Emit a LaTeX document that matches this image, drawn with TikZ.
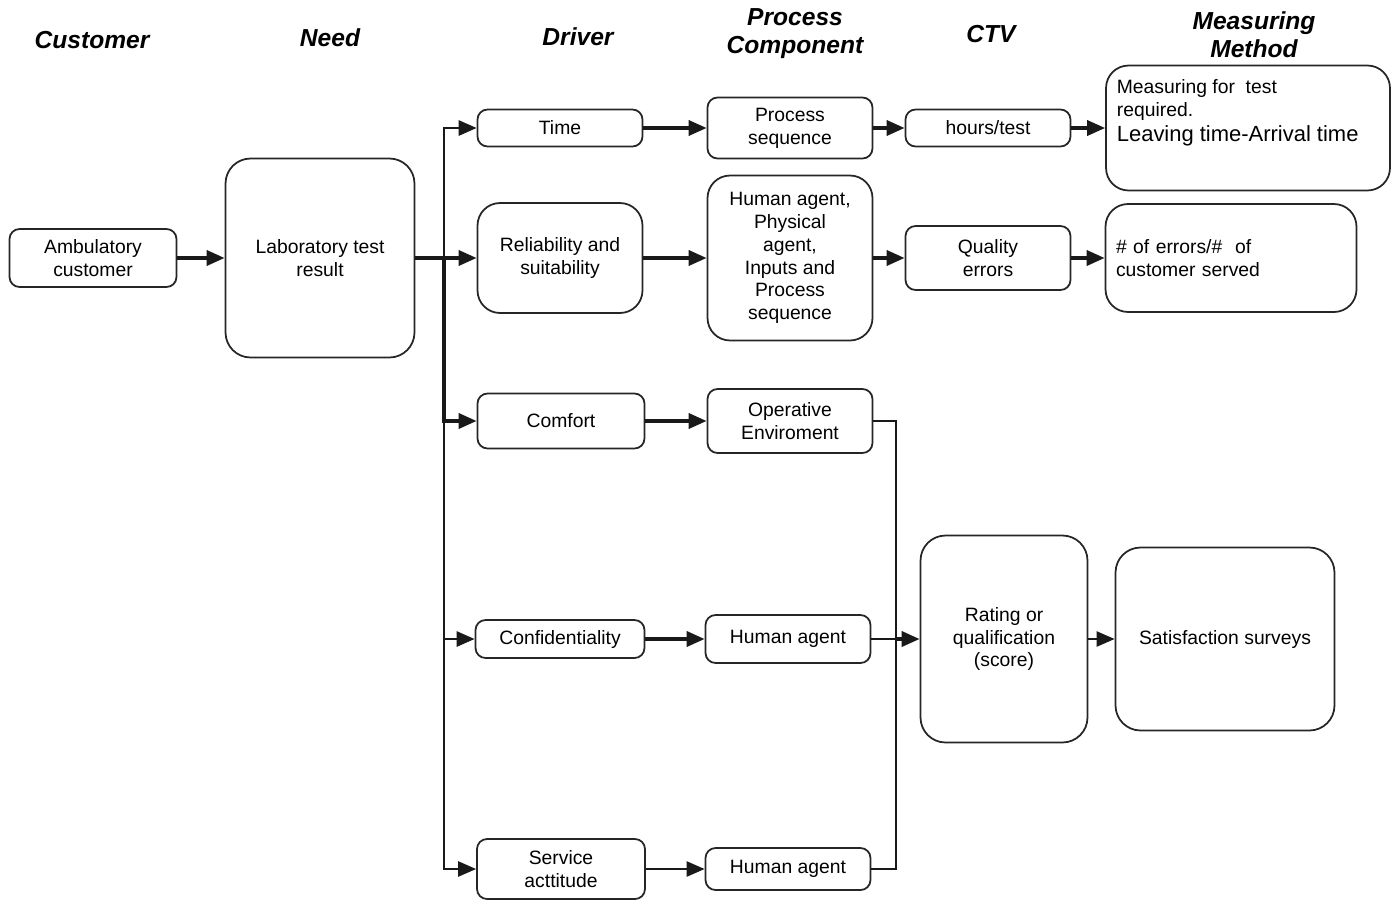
\documentclass[tikz,border=0pt]{standalone}
\usepackage{fontspec}
\setmainfont{Liberation Sans}
\usetikzlibrary{arrows.meta}
\tikzset{cbox/.style={draw=black!85,line width=1pt,rounded corners=#1,align=center,inner sep=2pt,
                      font=\fontsize{11}{13}\selectfont},
         cbox/.default=0.2cm,
         cedge/.style={draw=black!90,line width=#1},
         cedge/.default=2pt,
         hdr/.style={font=\fontsize{14}{16}\selectfont\bfseries\itshape,align=center},
         elbow/.style={to path={|- (\tikztotarget) \tikztonodes}},
         elbowh/.style={to path={-| (\tikztotarget) \tikztonodes}}
}

\begin{document}
\begin{tikzpicture}[x=0.02cm,y=-0.02cm]
  \useasboundingbox (0,0) rectangle (1399,903);
  % column headers
  \begin{scope}[every node/.style={hdr}]
    \node (hcust) at (92,40) {Customer};
    \node (hneed) at (330,38) {Need};
    \node (hdrv) at (578,37) {Driver};
    \node (hproc) at (795,34) {Process\\Component};
    \node (hctv) at (991,34) {CTV};
    \node (hmeas) at (1254,35) {Measuring\\Method};
  \end{scope}
  % boxes
  \begin{scope}[every node/.style={cbox}]
    \node[minimum width=3.34cm,minimum height=1.16cm] (amb) at (93,258) {Ambulatory\\customer};
    \node[cbox=0.5cm,minimum width=3.78cm,minimum height=3.98cm] (lab) at (320,258) {Laboratory test\\result};
    \node[minimum width=3.3cm,minimum height=0.74cm] (time) at (560,128) {Time};
    \node[cbox=0.45cm,minimum width=3.3cm,minimum height=2.2cm] (reli) at (560,258) {Reliability and\\suitability};
    \node[minimum width=3.34cm,minimum height=1.1cm] (comfort) at (561,421) {Comfort};
    \node[minimum width=3.38cm,minimum height=0.76cm] (conf) at (560,639) {Confidentiality};
    \node[minimum width=3.36cm,minimum height=1.2cm] (serv) at (561,869) {Service\\acttitude};
    \node[minimum width=3.3cm,minimum height=1.22cm] (procseq) at (790,128) {Process\\sequence};
    \node[cbox=0.45cm,minimum width=3.3cm,minimum height=3.3cm] (human1) at (790,258) {Human agent,\\Physical\\agent,\\Inputs and\\Process\\sequence};
    \node[minimum width=3.3cm,minimum height=1.28cm] (openv) at (790,421) {Operative\\Enviroment};
    \node[minimum width=3.3cm,minimum height=0.96cm] (hum2) at (788,639) {Human agent};
    \node[minimum width=3.3cm,minimum height=0.84cm] (hum3) at (788,869) {Human agent};
    \node[minimum width=3.3cm,minimum height=0.74cm] (hours) at (988,128) {hours/test};
    \node[minimum width=3.3cm,minimum height=1.28cm] (quality) at (988,258) {Quality\\errors};
    \node[cbox=0.5cm,minimum width=3.34cm,minimum height=4.14cm] (rating) at (1004,639) {Rating or\\qualification\\(score)};
    \node[cbox=0.45cm,minimum width=5.68cm,minimum height=2.5cm] (meas1) at (1248,128) {};
    \node[cbox=0.45cm,minimum width=5.02cm,minimum height=2.16cm,text width=4.6cm,align=left] (meas2) at (1231,258) {\#\ of errors/\#\ \ of\\customer served};
    \node[cbox=0.5cm,minimum width=4.38cm,minimum height=3.66cm] (satis) at (1225,639) {Satisfaction surveys};
  \end{scope}
  \node[anchor=north west,align=left,inner sep=2pt,font=\fontsize{11}{13}\selectfont] (meas1txt) at (1113,76)
    {Measuring for\ \ test\\required.\\[1pt]{\fontsize{12.5}{14}\selectfont Leaving time-Arrival time}};
  % connectors
  \coordinate (split) at (444,258);
  \coordinate (merge) at (896,639);
  \begin{scope}[>={Triangle[length=0.36cm,width=0.3cm]}]
    \path [->] (amb) edge[cedge] (lab);
    \path [-] (lab) edge[cedge] (split);
    \path [->] (split) edge[cedge] (reli);
    \path [->] (split) edge[cedge=1.6pt,elbow] (time);
    \path [->] (split) edge[cedge,elbow] (comfort);
    \path [->] (split) edge[cedge=1.6pt,elbow] (conf);
    \path [->] (split) edge[cedge=1.4pt,elbow] (serv);
    \path [->] (time) edge[cedge] (procseq);
    \path [->] (procseq) edge[cedge] (hours);
    \path [->] (hours) edge[cedge] (meas1);
    \path [->] (reli) edge[cedge] (human1);
    \path [->] (human1) edge[cedge] (quality);
    \path [->] (quality) edge[cedge] (meas2);
    \path [->] (comfort) edge[cedge] (openv);
    \path [->] (conf) edge[cedge] (hum2);
    \path [->] (serv) edge[cedge=1.4pt] (hum3);
    \path [-] (openv) edge[cedge=1.6pt,elbowh] (merge);
    \path [-] (hum2) edge[cedge=1.3pt] (merge);
    \path [-] (hum3) edge[cedge=1.4pt,elbowh] (merge);
    \path [->] (merge) edge[cedge] (rating);
    \path [->] (rating) edge[cedge=1.3pt] (satis);
  \end{scope}
\end{tikzpicture}
\end{document}
